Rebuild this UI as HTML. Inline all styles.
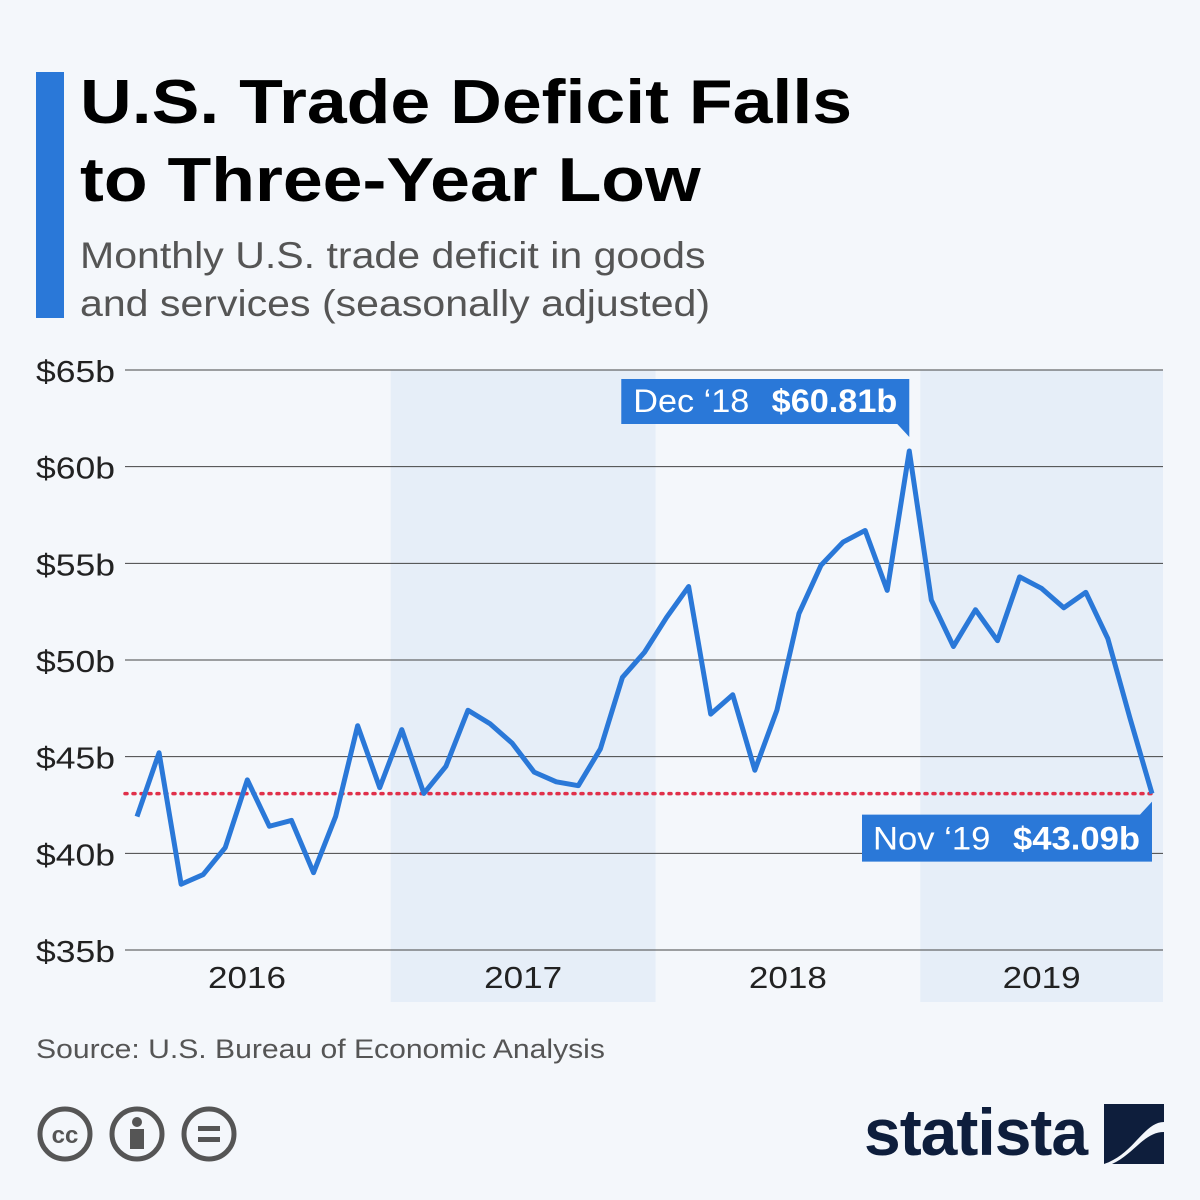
<!DOCTYPE html>
<html><head><meta charset="utf-8">
<style>
body{margin:0;width:1200px;height:1200px;background:#f4f7fb;font-family:"Liberation Sans",sans-serif;overflow:hidden;position:relative}
.abs{position:absolute}
</style></head><body>
<div class="abs" style="left:36px;top:72px;width:28px;height:246px;background:#2a78d8"></div>
<div class="abs" style="left:80px;top:64px;font-size:62px;font-weight:bold;line-height:78px;color:#000;transform:scaleX(1.155);transform-origin:0 0;white-space:nowrap">U.S. Trade Deficit Falls<br>to Three-Year Low</div>
<div class="abs" style="left:80px;top:232px;font-size:37px;line-height:48px;color:#555;transform:scaleX(1.11);transform-origin:0 0;white-space:nowrap">Monthly U.S. trade deficit in goods<br>and services (seasonally adjusted)</div>
<svg class="abs" style="left:0;top:0" width="1200" height="1200" id="chart"></svg>
<div class="abs" style="left:36px;top:1034px;font-size:27px;color:#555;transform:scaleX(1.115);transform-origin:0 0;white-space:nowrap">Source: U.S. Bureau of Economic Analysis</div>
<svg class="abs" style="left:36px;top:1104px" width="210" height="60">
<g fill="none" stroke="#555" stroke-width="5"><circle cx="29" cy="30" r="25"/><circle cx="101" cy="30" r="25"/><circle cx="173" cy="30" r="25"/></g>
<text x="29" y="39" text-anchor="middle" font-size="24" font-weight="bold" fill="#555" font-family="Liberation Sans">cc</text>
<circle cx="101" cy="18" r="5" fill="#555"/><rect x="94" y="25" width="14" height="20" fill="#555"/>
<rect x="162" y="22" width="22" height="5" fill="#555"/><rect x="162" y="33" width="22" height="5" fill="#555"/>
</svg>
<div class="abs" style="left:864px;top:1094px;font-size:66px;font-weight:bold;color:#0e1e3c;letter-spacing:-1px">statista</div>
<svg class="abs" style="left:1104px;top:1104px" width="60" height="60">
<path d="M0 0H60V18C40 18 30 50 0 60Z" fill="#0e1e3c"/><path d="M60 60H8C30 50 40 28 60 28Z" fill="#0e1e3c"/></svg>
<script>
const values=[41.9,45.2,38.4,38.9,40.3,43.8,41.4,41.7,39.0,41.9,46.6,43.4,46.4,43.1,44.5,47.4,46.7,45.7,44.2,43.7,43.5,45.4,49.1,50.4,52.2,53.8,47.2,48.2,44.3,47.4,52.4,54.9,56.1,56.7,53.6,60.81,53.1,50.7,52.6,51.0,54.3,53.7,52.7,53.5,51.1,47.0,43.09];
const yTicks=[35,40,45,50,55,60,65];
const years=["2016","2017","2018","2019"];
const refValue=43.09;
const svg=document.getElementById('chart');
const NS='http://www.w3.org/2000/svg';
const x0=137,step=(1152-137)/46;
const X=i=>x0+i*step;
const Y=v=>950-(v-35)*(580/30);
function mk(t,a,p){const e=document.createElementNS(NS,t);for(const k in a)e.setAttribute(k,a[k]);(p||svg).appendChild(e);return e;}
years.forEach((yr,k)=>{
 const xa=k===0?125:(X(k*12-1)+X(k*12))/2;
 const xb=k===3?1163:(X(k*12+11)+X(k*12+12))/2;
 if(k%2===1){const r=mk('rect',{x:xa,y:370,width:xb-xa,height:632,fill:'#e6eef8'});
 
 }
 const cx=k===0?247:(xa+xb)/2;
 const t=mk('text',{x:cx-39,y:988,'font-size':31,fill:'#222',textLength:78,lengthAdjust:'spacingAndGlyphs'});t.textContent=yr;
 
 
});
yTicks.forEach(v=>{
 const l=mk('line',{x1:125,x2:1163,y1:Y(v),y2:Y(v),stroke:'#444','stroke-width':1});
 
 
 const t=mk('text',{x:36,y:Y(v)+12,'font-size':31,fill:'#222',textLength:79,lengthAdjust:'spacingAndGlyphs'});t.textContent='$'+v+'b';
 
 
});
const ref=mk('line',{x1:125,x2:1152,y1:Y(refValue),y2:Y(refValue),stroke:'#e0304a','stroke-width':3.5,'stroke-dasharray':'2 6','stroke-linecap':'round'});


const line=mk('polyline',{points:values.map((v,i)=>X(i)+','+Y(v)).join(' '),fill:'none',stroke:'#2a78d8','stroke-width':5,'stroke-linejoin':'round'});


const pi=35,px=X(pi),py=Y(values[pi]);
const g1=mk('g',{});


mk('path',{d:`M${px-288} ${py-72}H${px}V${py-14}L${px-12} ${py-27}H${px-288}Z`,fill:'#2a78d8'},g1);
const t1=mk('text',{x:px-276,y:py-39,'font-size':32,fill:'#fff',textLength:264,lengthAdjust:'spacingAndGlyphs'},g1);
t1.innerHTML='Dec ‘18 <tspan font-weight="bold" dx="12">$'+values[pi].toFixed(2)+'b</tspan>';
const li=46,lx=X(li),ly=Y(values[li]);
const g2=mk('g',{});


mk('path',{d:`M${lx-290} ${ly+21}H${lx-12}L${lx} ${ly+8}V${ly+68}H${lx-290}Z`,fill:'#2a78d8'},g2);
const t2=mk('text',{x:lx-279,y:ly+56,'font-size':32,fill:'#fff',textLength:267,lengthAdjust:'spacingAndGlyphs'},g2);
t2.innerHTML='Nov ‘19 <tspan font-weight="bold" dx="12">$'+values[li].toFixed(2)+'b</tspan>';
</script>
</body></html>
